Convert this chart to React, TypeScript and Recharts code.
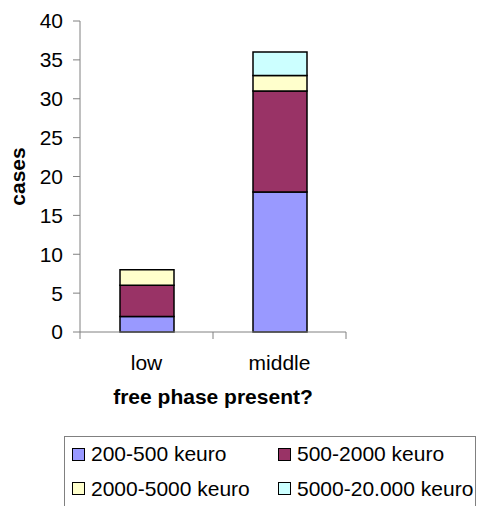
import { Bar, BarChart, Legend, XAxis, YAxis } from "recharts";

// Stacked counts of cases per remediation-cost class, split by whether free
// phase was present (Excel-style chart: boundary ticks, boxed legend below).

const categories = ["low", "middle"];
const cost200to500 = [2, 18];
const cost500to2000 = [4, 13];
const cost2000to5000 = [2, 2];
const cost5000to20000 = [0, 3];
const yTicks = [0, 5, 10, 15, 20, 25, 30, 35, 40];

const SERIES = [
  { key: "a", name: "200-500 keuro", color: "#9999ff", values: cost200to500 },
  { key: "b", name: "500-2000 keuro", color: "#993366", values: cost500to2000 },
  { key: "c", name: "2000-5000 keuro", color: "#ffffcc", values: cost2000to5000 },
  { key: "d", name: "5000-20.000 keuro", color: "#ccffff", values: cost5000to20000 },
];

const rows = categories.map((name, i) => {
  const row: Record<string, string | number> = { name };
  SERIES.forEach((s) => (row[s.key] = s.values[i]));
  return row;
});

const FONT = "'Liberation Sans', Arial, sans-serif";
const AXIS = "#808080";
const FS = 21;

// category label plus Excel-like tick marks on the band edges
function CategoryTick(props: any) {
  const { x, y, payload, index, visibleTicksCount } = props;
  const half = payload.offset ?? 0;
  const last = index === visibleTicksCount - 1;
  return (
    <g>
      <line x1={x - half} x2={x - half} y1={y} y2={y + 7} stroke={AXIS} />
      {last && <line x1={x + half} x2={x + half} y1={y} y2={y + 7} stroke={AXIS} />}
      <text x={x} y={y + 38} textAnchor="middle" fontSize={FS} fill="#000" fontFamily={FONT}>
        {payload.value}
      </text>
    </g>
  );
}

function YTitle(props: any) {
  const { viewBox } = props;
  const cx = viewBox.x + 17;
  const cy = viewBox.y + viewBox.height / 2;
  return (
    <text
      x={cx}
      y={cy}
      transform={`rotate(-90 ${cx} ${cy})`}
      textAnchor="middle"
      dominantBaseline="central"
      fontSize={FS}
      fontWeight="bold"
      fontFamily={FONT}
    >
      cases
    </text>
  );
}

function XTitle(props: any) {
  const { viewBox } = props;
  return (
    <text
      x={viewBox.x + viewBox.width / 2}
      y={viewBox.y + 72}
      textAnchor="middle"
      fontSize={FS}
      fontWeight="bold"
      fontFamily={FONT}
    >
      free phase present?
    </text>
  );
}

function BoxLegend() {
  return (
    <div
      style={{
        width: 412,
        height: 100,
        borderTop: `1px solid ${AXIS}`,
        borderLeft: `1px solid ${AXIS}`,
        borderRight: `1px solid ${AXIS}`,
        boxSizing: "border-box",
        display: "grid",
        gridTemplateColumns: "206px 1fr",
        gridAutoRows: "34.5px",
        paddingLeft: 7,
        fontFamily: FONT,
        fontSize: FS,
        color: "#000",
        whiteSpace: "nowrap",
      }}
    >
      {SERIES.map((s) => (
        <div key={s.key} style={{ display: "flex", alignItems: "center" }}>
          <span
            style={{
              width: 11,
              height: 11,
              background: s.color,
              border: "1px solid #000",
              marginRight: 6,
              display: "inline-block",
              flex: "none",
            }}
          />
          {s.name}
        </div>
      ))}
    </div>
  );
}

export default function App() {
  return (
    <div
      style={{
        position: "absolute",
        left: 0,
        top: 0,
        width: 478,
        height: 506,
        overflow: "hidden",
        background: "#fff",
        fontFamily: FONT,
      }}
    >
      <BarChart width={478} height={506} data={rows} margin={{ top: 21, right: 132, bottom: 114, left: 0 }}>
        <YAxis
          width={80}
          domain={[0, 40]}
          ticks={yTicks}
          tickSize={7}
          tickMargin={10}
          stroke={AXIS}
          tick={{ fill: "#000", fontSize: FS, fontFamily: FONT }}
          label={<YTitle />}
        />
        <XAxis
          dataKey="name"
          height={60}
          tickLine={false}
          tickSize={0}
          tickMargin={0}
          stroke={AXIS}
          tick={<CategoryTick />}
          label={<XTitle />}
        />
        <Legend
          layout="vertical"
          align="center"
          verticalAlign="middle"
          content={<BoxLegend />}
          wrapperStyle={{ left: 64, top: 436, width: 412 }}
        />
        {SERIES.map((s) => (
          <Bar
            key={s.key}
            dataKey={s.key}
            name={s.name}
            stackId="cost"
            fill={s.color}
            stroke="#000"
            strokeWidth={1.5}
            barSize={54}
            isAnimationActive={false}
          />
        ))}
      </BarChart>
    </div>
  );
}
